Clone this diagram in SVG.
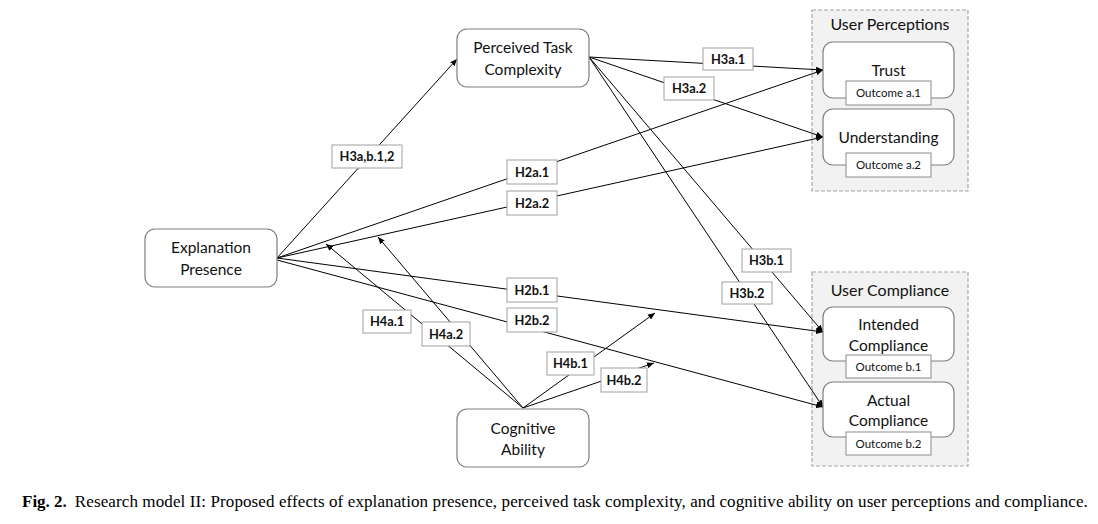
<svg xmlns="http://www.w3.org/2000/svg" width="1098" height="524" viewBox="0 0 1098 524">
<style>
.node{fill:#fff;stroke:#7f7f7f;stroke-width:1.2}
.grp{fill:#f2f2f2;stroke:#a6a6a6;stroke-width:1.2;stroke-dasharray:4 2}
.nt{font-family:Lato,"Open Sans",sans-serif;font-size:15.5px;fill:#111;text-anchor:middle}
.gt{font-family:Lato,"Open Sans",sans-serif;font-size:16px;fill:#111;text-anchor:middle}
.ob{fill:#fff;stroke:#8c8c8c;stroke-width:1}
.ot{font-family:Lato,"Open Sans",sans-serif;font-size:11.5px;fill:#111;text-anchor:middle}
.lb{fill:#fff;stroke:#a0a0a0;stroke-width:1}
.lt{font-family:Lato,"Open Sans",sans-serif;font-size:12.8px;font-weight:bold;fill:#111;text-anchor:middle}
.ln{stroke:#000;stroke-width:1;fill:none}
.cap{font-family:"Liberation Serif",serif;font-size:17px;fill:#000}
</style>
<defs>
<marker id="ah" markerUnits="userSpaceOnUse" markerWidth="8" markerHeight="6" refX="7" refY="3" orient="auto">
<path d="M0,0 L7,3 L0,6 Z" fill="#000"/>
</marker>
</defs>
<rect width="1098" height="524" fill="#fff"/>

<g id="group-user-perceptions">
<rect class="grp" x="812" y="10" width="156" height="181"/>
<text class="gt" x="890" y="30">User Perceptions</text>
</g>
<g id="group-user-compliance">
<rect class="grp" x="812" y="272" width="156" height="194"/>
<text class="gt" x="890" y="296">User Compliance</text>
</g>

<g id="connectors">
<line class="ln" x1="277" y1="258" x2="457" y2="59" marker-end="url(#ah)"/>
<line class="ln" x1="277" y1="258" x2="823" y2="70" marker-end="url(#ah)"/>
<line class="ln" x1="277" y1="258" x2="823" y2="137" marker-end="url(#ah)"/>
<line class="ln" x1="277" y1="258" x2="823" y2="332" marker-end="url(#ah)"/>
<line class="ln" x1="277" y1="260" x2="823" y2="407" marker-end="url(#ah)"/>
<line class="ln" x1="589" y1="57" x2="823" y2="70" marker-end="url(#ah)"/>
<line class="ln" x1="589" y1="57" x2="823" y2="137" marker-end="url(#ah)"/>
<line class="ln" x1="589" y1="57" x2="823" y2="332" marker-end="url(#ah)"/>
<line class="ln" x1="589" y1="57" x2="823" y2="407" marker-end="url(#ah)"/>
<line class="ln" x1="523" y1="408" x2="326" y2="244" marker-end="url(#ah)"/>
<line class="ln" x1="523" y1="408" x2="378" y2="237" marker-end="url(#ah)"/>
<line class="ln" x1="523" y1="408" x2="655" y2="313" marker-end="url(#ah)"/>
<line class="ln" x1="523" y1="408" x2="654" y2="363" marker-end="url(#ah)"/>

<g id="labels">
<rect class="lb" x="332" y="145" width="70" height="23"/><text class="lt" x="367" y="161">H3a,b.1,2</text>
<rect class="lb" x="507" y="160" width="50" height="24"/><text class="lt" x="532" y="176.5">H2a.1</text>
<rect class="lb" x="507" y="191" width="50" height="24"/><text class="lt" x="532" y="207.5">H2a.2</text>
<rect class="lb" x="507" y="278" width="50" height="24"/><text class="lt" x="532" y="294.5">H2b.1</text>
<rect class="lb" x="507" y="308" width="50" height="24"/><text class="lt" x="532" y="324.5">H2b.2</text>
<rect class="lb" x="703" y="48" width="50" height="22"/><text class="lt" x="728" y="63.5">H3a.1</text>
<rect class="lb" x="664" y="77" width="50" height="23"/><text class="lt" x="689" y="93">H3a.2</text>
<rect class="lb" x="742" y="249" width="49" height="23"/><text class="lt" x="766.5" y="265">H3b.1</text>
<rect class="lb" x="722" y="282" width="50" height="22"/><text class="lt" x="747" y="297.5">H3b.2</text>
<rect class="lb" x="363" y="310" width="48" height="23"/><text class="lt" x="387" y="326">H4a.1</text>
<rect class="lb" x="422" y="322" width="48" height="24"/><text class="lt" x="446" y="338.5">H4a.2</text>
<rect class="lb" x="547" y="352" width="47" height="23"/><text class="lt" x="570.5" y="368">H4b.1</text>
<rect class="lb" x="601" y="368" width="46" height="24"/><text class="lt" x="624" y="384.5">H4b.2</text>
</g>
</g>

<g id="node-explanation-presence">
<rect class="node" x="145" y="229" width="132" height="58" rx="10"/>
<text class="nt" x="211" y="253">Explanation</text>
<text class="nt" x="211" y="275">Presence</text>
</g>
<g id="node-perceived-task-complexity">
<rect class="node" x="457" y="29" width="132" height="58" rx="10"/>
<text class="nt" x="523" y="53">Perceived Task</text>
<text class="nt" x="523" y="75">Complexity</text>
</g>
<g id="node-cognitive-ability">
<rect class="node" x="457" y="409" width="132" height="58" rx="10"/>
<text class="nt" x="523" y="434">Cognitive</text>
<text class="nt" x="523" y="455">Ability</text>
</g>
<g id="node-trust">
<rect class="node" x="823" y="42" width="131" height="56" rx="10"/>
<text class="nt" x="888.5" y="76">Trust</text>
<rect class="ob" x="846" y="81" width="85" height="24"/>
<text class="ot" x="888.5" y="97">Outcome a.1</text>
</g>
<g id="node-understanding">
<rect class="node" x="823" y="109" width="131" height="56" rx="10"/>
<text class="nt" x="888.5" y="143">Understanding</text>
<rect class="ob" x="846" y="153" width="85" height="24"/>
<text class="ot" x="888.5" y="169">Outcome a.2</text>
</g>
<g id="node-intended-compliance">
<rect class="node" x="823" y="307" width="131" height="54" rx="10"/>
<text class="nt" x="888.5" y="330">Intended</text>
<text class="nt" x="888.5" y="351">Compliance</text>
<rect class="ob" x="846" y="355" width="85" height="23"/>
<text class="ot" x="888.5" y="371">Outcome b.1</text>
</g>
<g id="node-actual-compliance">
<rect class="node" x="823" y="382" width="131" height="55" rx="10"/>
<text class="nt" x="888.5" y="406">Actual</text>
<text class="nt" x="888.5" y="426">Compliance</text>
<rect class="ob" x="846" y="432" width="85" height="23"/>
<text class="ot" x="888.5" y="448">Outcome b.2</text>
</g>

<text class="cap" x="22" y="507"><tspan font-weight="bold">Fig. 2.</tspan><tspan dx="8" textLength="1013" lengthAdjust="spacing">Research model II: Proposed effects of explanation presence, perceived task complexity, and cognitive ability on user perceptions and compliance.</tspan></text>
</svg>
